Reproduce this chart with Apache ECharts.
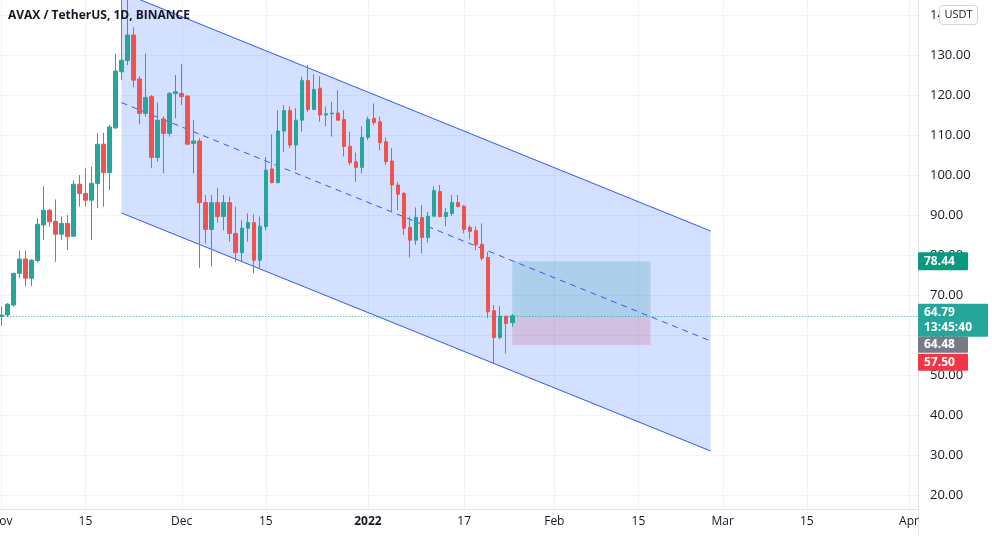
<!DOCTYPE html>
<html><head><meta charset="utf-8">
<script src="https://cdn.jsdelivr.net/npm/echarts@6/dist/echarts.min.js"></script>
<style>html,body{margin:0;padding:0;background:#fff}#c{width:992px;height:536px}</style>
</head><body><div id="c"></div>
<script>
// ---- data ----
const startDate = '2021-11-01';
const dayCount = 153; // Nov 1 .. Apr 2
const tickIndices = [0, 14, 30, 44, 61, 77, 92, 106, 120, 134, 151];
const tickLabels = ['Nov', '15', 'Dec', '15', '2022', '17', 'Feb', '15', 'Mar', '15', 'Apr'];

const opens = [64.6,65.0,67.5,75.4,79.0,74.2,78.6,87.5,91.2,88.4,85.2,87.9,84.7,97.7,95.4,93.7,97.9,107.7,100.6,111.8,
  125.8,128.6,135.0,124.0,115.4,119.6,104.4,114.0,110.4,120.4,120.4,119.7,107.9,108.5,93.1,86.4,93.1,89.6,93.1,85.4,
  80.6,86.7,88.1,78.7,87.1,101.5,98.1,111.0,116.1,107.5,113.7,123.6,116.4,121.7,115.0,115.3,115.5,113.9,107.2,103.3,
  101.9,109.4,114.2,113.3,108.3,103.5,97.5,95.4,86.9,83.7,89.4,84.4,89.7,95.9,89.6,90.4,93.1,92.2,86.9,86.1,
  82.7,79.4,66.1,59.4,64.7,63.1];
const closes = [65.0,67.7,75.4,79.0,74.2,78.7,87.7,91.2,88.3,85.2,87.9,84.6,97.7,95.4,93.7,97.9,107.7,100.6,112.0,126.0,
  128.7,135.0,123.7,115.4,119.4,104.4,113.7,110.4,120.4,120.8,119.6,107.7,108.5,93.1,86.4,93.1,89.6,93.1,85.4,80.6,
  86.7,88.1,78.7,87.2,101.2,98.1,111.0,116.1,107.5,113.7,123.6,116.4,121.4,115.0,115.3,115.5,113.7,107.1,103.1,101.9,
  109.4,113.9,113.1,108.1,103.3,97.5,95.2,86.7,83.7,89.4,84.4,89.7,96.1,89.6,90.6,93.1,92.1,86.4,85.9,82.5,
  79.2,65.8,59.4,64.7,62.9,64.79];
const lows = [62.3,64.5,67.1,74.2,72.2,72.2,78.1,83.7,87.1,78.3,83.7,81.2,84.6,92.1,92.1,83.7,91.7,92.1,96.2,111.5,
  123.7,127.5,121.9,112.7,114.6,101.7,103.3,100.4,109.6,114.2,117.5,107.5,100.4,76.8,82.9,77.1,88.1,86.2,83.3,78.3,
  78.3,83.3,75.4,76.7,86.2,97.9,97.9,105.8,106.7,101.2,110.8,115.8,116.2,113.3,112.2,109.6,113.7,104.6,102.5,98.3,
  100.4,108.7,112.5,106.2,102.5,90.8,91.2,85.0,79.4,82.5,80.4,83.1,89.4,89.4,87.2,89.7,92.0,85.4,83.9,81.2,
  78.6,64.2,52.9,58.9,55.4,62.1];
const highs = [67.1,68.0,75.6,81.1,81.1,79.0,89.2,97.2,91.5,93.9,89.6,90.0,98.7,100.0,101.7,102.1,110.4,110.6,112.5,130.4,
  146.2,143.9,136.9,124.7,130.4,120.0,118.1,114.6,120.7,125.0,127.7,120.0,113.7,109.2,95.0,95.0,96.8,95.0,94.6,92.1,
  88.7,90.4,90.2,89.6,104.5,110.2,116.2,117.5,117.2,116.7,124.6,127.5,125.2,124.7,117.1,118.3,121.2,116.2,110.8,105.6,
  112.2,114.6,117.9,114.6,109.4,106.7,98.3,95.8,89.6,91.9,92.5,90.8,97.2,97.5,91.7,95.0,95.0,92.5,87.5,87.1,
  87.9,80.8,67.5,67.2,64.8,65.2];

const channelX = [20, 118];
const channelUpper = [145.7, 86.0];
const channelMid = [118.1, 58.5];
const channelLower = [90.5, 31.0];

const positionX = [85, 108];
const entryPrice = 64.48;
const targetPrice = 78.44;
const stopPrice = 57.50;
const lastPrice = 64.79;
const countdown = '13:45:40';
const titleText = 'AVAX / TetherUS, 1D, BINANCE';

// ---- build ----
const cats = [];
{
  const d0 = new Date(startDate + 'T00:00:00Z');
  for (let i = 0; i < dayCount; i++) {
    const d = new Date(d0.getTime() + i * 86400000);
    cats.push(d.toISOString().slice(0, 10));
  }
}
const tickMap = {};
tickIndices.forEach((t, i) => tickMap[t] = tickLabels[i]);
const candleData = opens.map((o, i) => [o, closes[i], lows[i], highs[i]]);

const FONT = '"Open Sans", "Noto Sans", sans-serif';
const TXT = '#131722';

const chart = echarts.init(document.getElementById('c'), null, {renderer: 'canvas'});
const option = {
  animation: false,
  backgroundColor: '#ffffff',
  textStyle: {fontFamily: FONT},
  grid: {left: -1.7, right: 74, top: -25, bottom: 1, containLabel: false, outerBoundsMode: 'none'},
  xAxis: {
    type: 'category', data: cats, boundaryGap: true, offset: -26, z: 60,
    axisLine: {show: true, lineStyle: {color: '#e0e3eb', width: 1}},
    axisTick: {show: false},
    splitLine: {show: false},
    axisLabel: {
      interval: (idx) => tickMap[idx] !== undefined,
      formatter: (v, idx) => {
        const t = tickMap[idx];
        if (t === undefined) return '';
        return t === '2022' ? '{b|2022}' : t;
      },
      color: TXT, fontSize: 12, margin: 7, fontFamily: FONT, hideOverlap: false,
      rich: {b: {fontWeight: 'bold', fontSize: 12, color: TXT, fontFamily: FONT}}
    }
  },
  yAxis: {
    type: 'value', position: 'right', min: 10, max: 150, interval: 10,
    axisLine: {show: true, lineStyle: {color: '#e0e3eb'}},
    axisTick: {show: false},
    splitLine: {show: true, lineStyle: {color: '#f0f3fa', width: 1}},
    axisLabel: {
      formatter: (v) => (v <= 10 || v >= 150) ? '' : v.toFixed(2),
      color: TXT, fontSize: 13, margin: 12, align: 'left', fontFamily: FONT
    }
  },
  series: [
    { // vertical grid lines at time ticks
      type: 'custom', z: 0, silent: true, clip: true,
      data: tickIndices.map(t => [t, 80]),
      renderItem: (params, api) => {
        const t = api.value(0);
        const a = api.coord([t, 150]), b = api.coord([t, 10]);
        return {type: 'line', shape: {x1: Math.round(a[0]) + 0.5, y1: a[1], x2: Math.round(b[0]) + 0.5, y2: b[1]},
          style: {stroke: '#f0f3fa', lineWidth: 1}};
      }
    },
    { // channel fill
      type: 'custom', z: 1, clip: true, silent: true,
      data: [[channelX[0], channelLower[0]]],
      renderItem: (params, api) => {
        const pts = [
          api.coord([channelX[0], channelUpper[0]]),
          api.coord([channelX[1], channelUpper[1]]),
          api.coord([channelX[1], channelLower[1]]),
          api.coord([channelX[0], channelLower[0]])
        ];
        return {type: 'polygon', shape: {points: pts}, style: {fill: 'rgba(41,98,255,0.2)'}};
      }
    },
    { // long position box
      type: 'line', data: [], z: 2, silent: true,
      markArea: {
        silent: true,
        data: [
          [{xAxis: positionX[0], yAxis: entryPrice, itemStyle: {color: 'rgba(8,153,129,0.2)'}}, {xAxis: positionX[1], yAxis: targetPrice}],
          [{xAxis: positionX[0], yAxis: stopPrice, itemStyle: {color: 'rgba(242,54,69,0.2)'}}, {xAxis: positionX[1], yAxis: entryPrice}]
        ]
      }
    },
    {
      type: 'line', z: 3, silent: true, showSymbol: false,
      data: [[channelX[0], channelUpper[0]], [channelX[1], channelUpper[1]]],
      lineStyle: {color: '#3158f0', width: 1}
    },
    {
      type: 'line', z: 3, silent: true, showSymbol: false,
      data: [[channelX[0], channelLower[0]], [channelX[1], channelLower[1]]],
      lineStyle: {color: '#3158f0', width: 1}
    },
    {
      type: 'line', z: 3, silent: true, showSymbol: false,
      data: [[channelX[0], channelMid[0]], [channelX[1], channelMid[1]]],
      lineStyle: {color: '#3158f0', width: 1, type: [6, 5]}
    },
    {
      type: 'candlestick', z: 4, silent: true,
      data: candleData, barWidth: 4,
      itemStyle: {color: '#26a69a', color0: '#ef5350', borderColor: '#26a69a', borderColor0: '#ef5350', borderWidth: 1},
      markLine: {
        silent: true, symbol: ['none', 'none'], label: {show: false},
        lineStyle: {color: '#26a69a', type: [1, 2], width: 1},
        data: [{yAxis: lastPrice}]
      }
    }
  ]
};
chart.setOption(option);

const yOf = (p) => chart.convertToPixel({yAxisIndex: 0}, p);
const yT = yOf(targetPrice), yL = yOf(lastPrice);
const AX = 918;
function badge(id, y, h, w, fill) {
  return {type: 'rect', id: id, z: 100, shape: {x: AX, y: y, width: w, height: h, r: 1}, style: {fill: fill}};
}
function btext(id, x, y, s, size) {
  return {type: 'text', id: id, z: 101, x: x, y: y,
    style: {text: s, fill: '#ffffff', font: 'bold ' + (size || 12) + 'px ' + FONT, verticalAlign: 'middle'}};
}
const lastTop = yL - 12;
const entryTop = yL + 21;
const stopTop = yL + 38;
chart.setOption({
  graphic: [
    {type: 'rect', id: 'axcover', z: 50, shape: {x: 0, y: 510, width: 917, height: 26}, style: {fill: '#ffffff'}},
    {type: 'text', id: 'title', z: 120, x: 8, y: 16,
      style: {text: titleText, fill: TXT, font: 'bold 12px ' + FONT, verticalAlign: 'middle'}},
    {type: 'rect', id: 'usdt', z: 110, shape: {x: 939.5, y: 5.5, width: 38, height: 19, r: 3},
      style: {fill: '#ffffff', stroke: '#d1d4dc', lineWidth: 1}},
    {type: 'text', id: 'usdtT', z: 111, x: 958.5, y: 15,
      style: {text: 'USDT', fill: TXT, font: '11px ' + FONT, align: 'center', verticalAlign: 'middle'}},
    badge('bT', yT - 9, 18, 50, '#089981'),
    btext('tT', 924, yT, targetPrice.toFixed(2)),
    badge('bL', lastTop, 33, 70, '#26a69a'),
    btext('tL', 924, yL - 3, lastPrice.toFixed(2)),
    btext('tC', 924, yL + 12, countdown),
    badge('bE', entryTop, 16, 50, '#787b86'),
    btext('tE', 924, entryTop + 8, entryPrice.toFixed(2)),
    badge('bS', stopTop, 17, 50, '#f23645'),
    btext('tS', 924, stopTop + 8.5, stopPrice.toFixed(2))
  ]
});
</script>
</body></html>
